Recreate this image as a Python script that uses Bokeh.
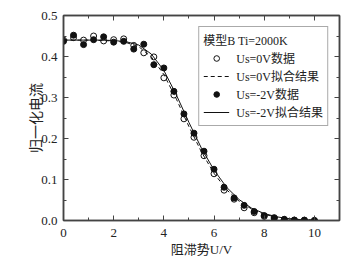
from bokeh.plotting import figure
from bokeh.models import (Range1d, FixedTicker, Legend, LegendItem, LinearAxis,
                          PrintfTickFormatter, CustomJSTickFormatter)
from bokeh.embed import file_html
from bokeh.resources import INLINE

# measured points
x_pts = [0.0, 0.4, 0.8, 1.2, 1.6, 2.0, 2.4, 2.8, 3.2, 3.6, 4.0, 4.4, 4.8, 5.2,
         5.6, 6.0, 6.4, 6.8, 7.2, 7.6, 8.0, 8.4, 8.8, 9.2, 9.6, 10.0]
y_0v = [0.440, 0.446, 0.440, 0.450, 0.438, 0.441, 0.443, 0.427, 0.409, 0.399,
        0.348, 0.306, 0.248, 0.203, 0.158, 0.114, 0.074, 0.052, 0.031, 0.019,
        0.010, 0.005, 0.002, 0.001, 0.0005, 0.0]
y_m2v = [0.437, 0.452, 0.429, 0.441, 0.448, 0.435, 0.437, 0.418, 0.430, 0.380,
         0.372, 0.315, 0.260, 0.213, 0.169, 0.125, 0.081, 0.055, 0.037, 0.022,
         0.012, 0.007, 0.003, 0.001, 0.001, 0.0]

# fitted curves
fit_x = [0.0, 0.5, 1.0, 1.5, 2.0, 2.5, 3.0, 3.5, 4.0, 4.5, 5.0, 5.5, 6.0, 6.5,
         7.0, 7.5, 8.0, 8.5, 9.0, 9.5, 10.0]
fit_0v = [0.440, 0.440, 0.440, 0.439, 0.438, 0.434, 0.424, 0.399, 0.356, 0.296,
          0.229, 0.167, 0.115, 0.075, 0.047, 0.028, 0.015, 0.008, 0.004, 0.002, 0.001]
fit_m2v = [0.440, 0.440, 0.440, 0.440, 0.439, 0.436, 0.428, 0.406, 0.366, 0.306,
           0.239, 0.176, 0.123, 0.081, 0.051, 0.030, 0.017, 0.009, 0.004, 0.002, 0.001]

x_ticks = [0, 2, 4, 6, 8, 10]
x_minor = [1, 3, 5, 7, 9, 11]
y_ticks = [0.0, 0.1, 0.2, 0.3, 0.4, 0.5]
y_minor = [0.05, 0.15, 0.25, 0.35, 0.45]

FONT = "Liberation Serif, Noto Sans CJK SC"
TXT = "#222222"
AX = "#444444"

p = figure(width=350, height=259, output_backend="svg", toolbar_location=None,
           x_range=Range1d(0, 11), y_range=Range1d(0, 0.5),
           min_border_left=63, min_border_top=15, min_border_right=11,
           min_border_bottom=39)
p.outline_line_color = AX
p.outline_line_width = 1.5
p.xgrid.visible = False
p.ygrid.visible = False
p.background_fill_color = "white"
p.border_fill_color = "white"

p.xaxis.ticker = FixedTicker(ticks=x_ticks, minor_ticks=x_minor)
p.yaxis.ticker = FixedTicker(ticks=y_ticks, minor_ticks=y_minor)
p.yaxis.formatter = PrintfTickFormatter(format="%.1f")

for ax in (p.xaxis[0], p.yaxis[0]):
    ax.axis_line_color = AX
    ax.axis_line_width = 1.5
    ax.major_tick_line_color = AX
    ax.minor_tick_line_color = AX
    ax.major_tick_in = 5
    ax.major_tick_out = 0
    ax.minor_tick_in = 3
    ax.minor_tick_out = 0
    ax.major_label_text_font = FONT
    ax.major_label_text_font_size = "13px"
    ax.major_label_text_color = TXT
    ax.axis_label_text_font = FONT
    ax.axis_label_text_font_style = "normal"
    ax.axis_label_text_color = TXT

p.xaxis.major_label_standoff = 8
p.xaxis.axis_label_standoff = 2
p.yaxis.major_label_standoff = 6
p.yaxis.axis_label_standoff = -6
p.xaxis.axis_label_text_font_size = "13px"
p.yaxis.axis_label_text_font_size = "14px"
p.xaxis.axis_label = "阻滞势U/V"
p.yaxis.axis_label = "归一化电流"

# mirror axes (top/right) with inward ticks, no labels
blank = CustomJSTickFormatter(code="return '';")
for loc in ("above", "right"):
    a = LinearAxis(ticker=FixedTicker(ticks=x_ticks if loc == "above" else y_ticks,
                                      minor_ticks=x_minor if loc == "above" else y_minor),
                   formatter=blank, axis_line_color=AX,
                   axis_line_width=1.5, major_tick_line_color=AX,
                   minor_tick_line_color=AX, major_tick_in=5, major_tick_out=0,
                   minor_tick_in=3, minor_tick_out=0, major_label_standoff=0)
    p.add_layout(a, loc)

r_fit0 = p.line(fit_x, fit_0v, line_color="#111111", line_width=1, line_dash="4 3")
r_fit2 = p.line(fit_x, fit_m2v, line_color="#111111", line_width=1)
r_o = p.scatter(x_pts, y_0v, size=6, marker="circle", fill_color=None,
                line_color="#111111", line_width=1)
r_f = p.scatter(x_pts, y_m2v, size=6, marker="circle", fill_color="#111111",
                line_color="#111111")

legend = Legend(items=[
    LegendItem(label="Us=0V数据", renderers=[r_o]),
    LegendItem(label="Us=0V拟合结果", renderers=[r_fit0]),
    LegendItem(label="Us=-2V数据", renderers=[r_f]),
    LegendItem(label="Us=-2V拟合结果", renderers=[r_fit2]),
], location="top_right", title="模型B Ti=2000K")
legend.title_text_font = FONT
legend.title_text_font_size = "12px"
legend.title_text_font_style = "normal"
legend.title_text_color = TXT
legend.title_standoff = 0
legend.label_text_font = FONT
legend.label_text_font_size = "12px"
legend.label_text_color = TXT
legend.label_height = 14
legend.glyph_height = 14
legend.glyph_width = 26
legend.label_standoff = 7
legend.spacing = 0
legend.padding = 4
legend.margin = 11
legend.border_line_color = "#555555"
legend.border_line_width = 1
legend.background_fill_alpha = 1
p.add_layout(legend, "center")

open("out.html", "w").write(file_html(p, INLINE))
